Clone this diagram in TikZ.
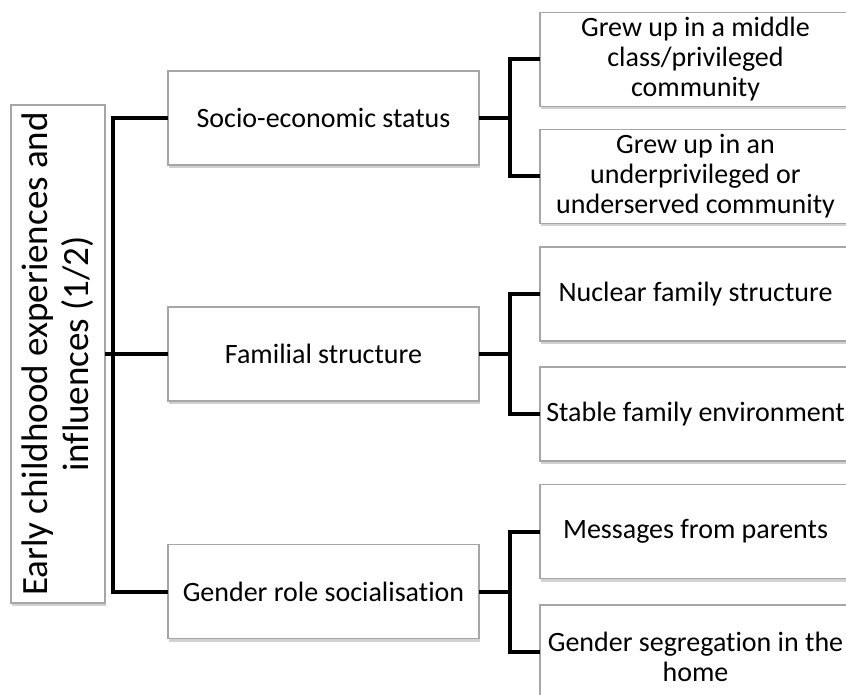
\documentclass[tikz,border=0pt]{standalone}
\usepackage{fontspec}
\setmainfont{Carlito}[Ligatures=NoCommon]
\usetikzlibrary{calc,shadows}
\begin{document}
\begin{tikzpicture}[x=1pt,y=-1pt,
  box/.style={draw=black!35, line width=1.2pt, fill=white, inner sep=0pt, outer sep=0pt,
    align=center, font=\fontsize{28}{30}\selectfont,
    drop shadow={shadow xshift=1pt, shadow yshift=-3pt, fill=black!45, opacity=0.4}},
  midbox/.style={box, minimum width=311pt, minimum height=94pt},
  leafbox/.style={box, minimum width=311pt, minimum height=94pt},
  rootbox/.style={box, rotate=90, minimum width=498pt, minimum height=94pt,
    font=\fontsize{37}{41}\selectfont},
  conn/.style={draw=black, line width=4pt}]
\useasboundingbox (0,0) rectangle (846,695);
\clip (0,0) rectangle (846,695);

% root topic, set vertically
\node[rootbox] (root) at (58,354) {Early childhood experiences and\\influences (1/2)};

% second level
\node[midbox] (m1) at (323.5,118) {Socio-economic status};
\node[midbox] (m2) at (323.5,354) {Familial structure};
\node[midbox] (m3) at (323.5,591.5) {Gender role socialisation};

% third level
\node[leafbox] (l1) at (695.5,59.5) {Grew up in a middle\\class/privileged\\community};
\node[leafbox] (l2) at (695.5,176.5) {Grew up in an\\underprivileged or\\underserved community};
\node[leafbox] (l3) at (695.5,294) {Nuclear family structure};
\node[leafbox] (l4) at (695.5,414) {Stable family environment};
\node[leafbox] (l5) at (695.5,531.5) {Messages from parents};
\node[leafbox, label={[font=\fontsize{28}{30}\selectfont, align=center, yshift=-5pt]center:Gender segregation in the\\home}] (l6) at (695.5,652) {};

% junction points halfway between the columns
\coordinate (j0) at ($(m1.west)!0.5!(m1.west -| root.east)$);
\coordinate (j1) at ($(m1.east)!0.5!(m1.east -| l1.west)$);
\coordinate (j2) at ($(m2.east)!0.5!(m2.east -| l3.west)$);
\coordinate (j3) at ($(m3.east)!0.5!(m3.east -| l5.west)$);

% connectors
\draw[conn] (root.south) -- (m2.west);
\draw[conn] (m1.west) -- (j0) |- (m3.west);
\draw[conn] (m1.east) -- (j1);
\draw[conn] (l1.west) -| (j1) |- (l2.west);
\draw[conn] (m2.east) -- (j2);
\draw[conn] (l3.west) -| (j2) |- (l4.west);
\draw[conn] (m3.east) -- (j3);
\draw[conn] (l5.west) -| (j3) |- (l6.west);
\end{tikzpicture}
\end{document}
